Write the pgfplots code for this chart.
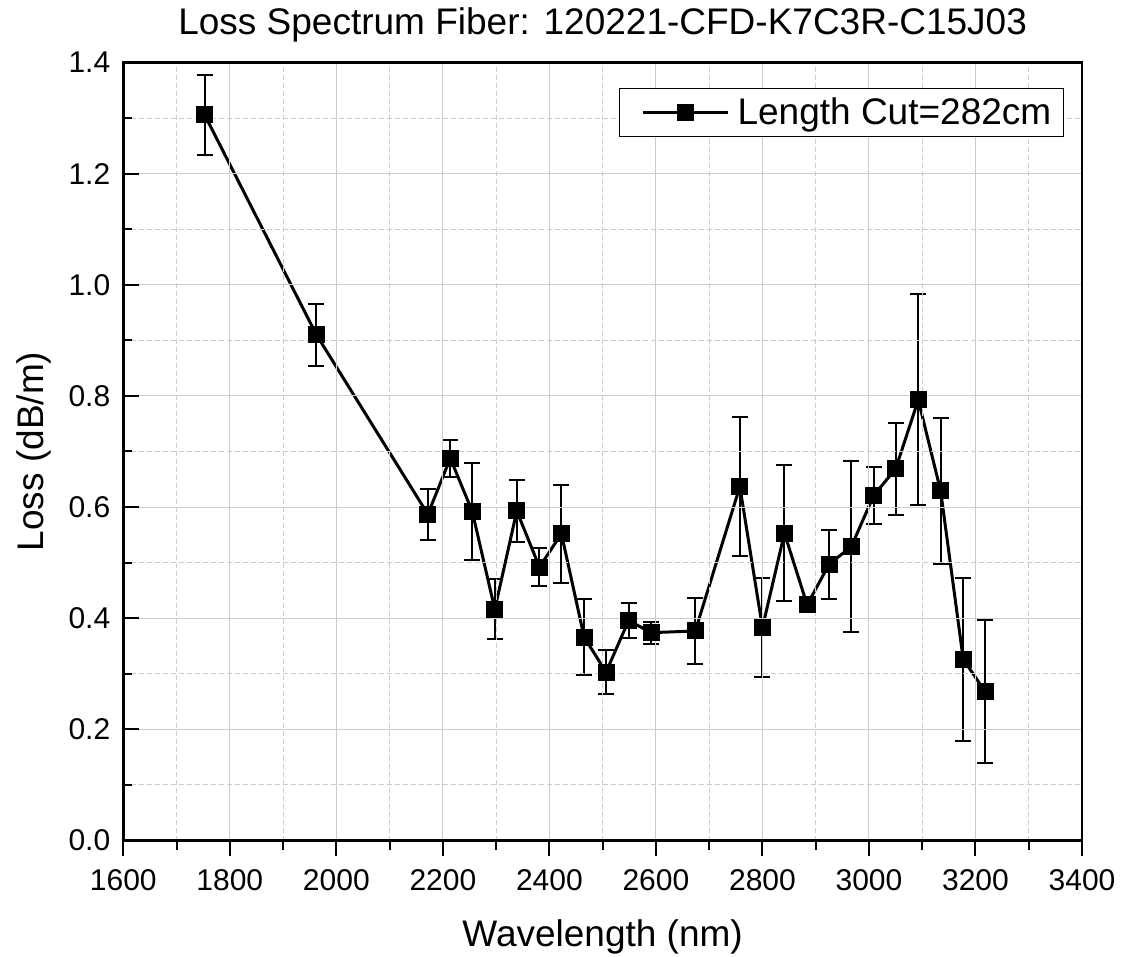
\documentclass[border=0pt]{standalone}
\usepackage{fontspec}
\setmainfont{Liberation Sans}
\usepackage{pgfplots}
\pgfplotsset{compat=1.18}
\pgfplotstableread{
x y e
1752.6 1.306 0.072
1962.6 0.910 0.056
2171.9 0.587 0.046
2213.9 0.688 0.033
2255.2 0.592 0.087
2297.5 0.416 0.054
2338.8 0.593 0.055
2381.3 0.492 0.034
2422.6 0.552 0.088
2465.2 0.366 0.068
2506.4 0.303 0.040
2548.8 0.396 0.031
2590.8 0.374 0.020
2673.9 0.377 0.060
2757.6 0.637 0.125
2800.0 0.383 0.089
2841.3 0.553 0.122
2883.9 0.424 0.006
2925.1 0.497 0.062
2966.9 0.529 0.154
3008.9 0.621 0.052
3050.2 0.669 0.083
3092.6 0.793 0.190
3134.6 0.629 0.131
3177.0 0.326 0.147
3218.2 0.268 0.128
}\lossdata
\begin{document}
\begin{tikzpicture}
\begin{axis}[
  scale only axis,
  width=479.35pt, height=389pt,
  xmin=1600, xmax=3400, ymin=0, ymax=1.4,
  xtick={1600,1800,...,3400},
  ytick={0,0.2,...,1.41},
  minor x tick num=1, minor y tick num=1,
  xtick pos=bottom, ytick pos=left,
  xtick align=outside, ytick align=inside,
  major tick length=7.75pt, minor tick length=4.5pt,
  every tick/.style={black, line width=1pt},
  axis line style={line width=1.4pt},
  grid=both,
  major grid style={solid, color=black!20, line width=0.5pt},
  minor grid style={dash pattern=on 2.5pt off 1.5pt, color=black!20, line width=0.5pt},
  /pgf/number format/assume math mode=true,
  xticklabel style={font=\fontsize{15}{18}\selectfont, anchor=base, yshift=-17pt, /pgf/number format/set thousands separator={}},
  yticklabel style={font=\fontsize{15}{18}\selectfont, xshift=-3pt, /pgf/number format/.cd, fixed, fixed zerofill, precision=1},
  title={Loss Spectrum Fiber: 120221-CFD-K7C3R-C15J03},
  title style={font=\fontsize{18.5}{22}\selectfont, at={(axis description cs:0.5,1)}, anchor=base, yshift=7.75pt},
  xlabel={Wavelength (nm)},
  xlabel style={font=\fontsize{18.5}{22}\selectfont, at={(axis description cs:0.5,0)}, anchor=base, yshift=-52.75pt},
  ylabel={Loss (dB/m)},
  ylabel style={font=\fontsize{18.5}{22}\selectfont, at={(axis description cs:-0.0834,0.5)}, anchor=base},
  legend style={at={(axis description cs:0.981,0.9668)}, anchor=north east, draw=black, line width=0.5pt, font=\fontsize{18.5}{22}\selectfont, inner xsep=4pt, inner ysep=2.5pt, nodes={inner sep=2pt}},
  legend image code/.code={\path (-7pt,0pt) (44.5pt,0pt); \draw[mark repeat=2, mark phase=2, #1] plot coordinates {(0pt,0pt) (21.25pt,0pt) (42.5pt,0pt)};},
  axis on top,
]
\addplot[black, line width=1.5pt, mark=square*, mark size=3.5pt, mark options={solid},
  error bars/.cd, y dir=both, y explicit,
  error bar style={line width=1pt, black},
  error mark options={line width=1pt, black, mark size=4pt, rotate=90}]
  table[x=x, y=y, y error=e] {\lossdata};
\addlegendentry{Length Cut=282cm}
\end{axis}
\pgfresetboundingbox
\path[use as bounding box] (-61.65pt,-58.25pt) rectangle (499.85pt,420.25pt);
\end{tikzpicture}
\end{document}
